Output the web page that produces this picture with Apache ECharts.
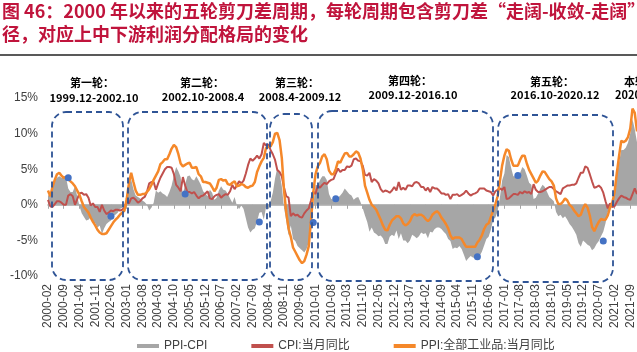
<!DOCTYPE html>
<html><head><meta charset="utf-8">
<script src="https://cdn.jsdelivr.net/npm/echarts@6/dist/echarts.min.js"></script>
<style>html,body{margin:0;padding:0;background:#fff}#c{width:637px;height:352px}</style>
</head><body><div id="c"></div>
<script>
// Monthly categories 2000-02 .. 2021-12
const months = [];
for (let y = 2000; y <= 2021; y++) for (let m = 1; m <= 12; m++) {
  if (y === 2000 && m === 1) continue;
  months.push(y + '-' + String(m).padStart(2, '0'));
}
// CPI: 当月同比 (%)
const cpi = [
  0.7,-0.2,-0.3,0.1,0.5,0.5,0.3,0.0,0.0,1.3,1.5,
  1.2,0.0,0.8,1.6,1.7,1.4,1.5,1.0,-0.1,0.2,-0.3,-0.3,
  -1.0,0.0,-0.8,-1.3,-1.1,-0.8,-0.9,-0.7,-0.7,-0.8,-0.7,-0.4,
  0.4,0.2,0.9,1.0,0.7,0.3,0.5,0.9,1.1,1.8,3.0,3.2,
  3.2,2.1,3.0,3.8,4.4,5.0,5.3,5.3,5.2,4.3,2.8,2.4,
  1.9,3.9,2.7,1.8,1.8,1.6,1.8,1.3,0.9,1.2,1.3,1.6,
  1.9,0.9,0.8,1.2,1.4,1.5,1.0,1.3,1.5,1.4,1.9,2.8,
  2.2,2.7,3.3,3.0,3.4,4.4,5.6,6.5,6.2,6.5,6.9,6.5,
  7.1,8.7,8.3,8.5,7.7,7.1,6.3,4.9,4.6,4.0,2.4,1.2,
  1.0,-1.6,-1.2,-1.5,-1.4,-1.7,-1.8,-1.2,-0.8,-0.5,0.6,1.9,
  1.5,2.7,2.4,2.8,3.1,2.9,3.3,3.5,3.6,4.4,5.1,4.6,
  4.9,4.9,5.4,5.3,5.5,6.4,6.5,6.2,6.1,5.5,4.2,4.1,
  4.5,3.2,3.6,3.4,3.0,2.2,1.8,2.0,1.9,1.7,2.0,2.5,
  2.0,3.2,2.1,2.4,2.1,2.7,2.7,2.6,3.1,3.2,3.0,2.5,
  2.5,2.0,2.4,1.8,2.5,2.3,2.3,2.0,1.6,1.6,1.4,1.5,
  0.8,1.4,1.4,1.5,1.2,1.4,1.6,2.0,1.6,1.3,1.5,1.6,
  1.8,2.3,2.3,2.3,2.0,1.9,1.8,1.3,1.9,2.1,2.3,2.1,
  2.5,0.8,0.9,1.2,1.5,1.5,1.4,1.8,1.6,1.9,1.7,1.8,
  1.5,2.9,2.1,1.8,1.8,1.9,2.1,2.3,2.5,2.5,2.2,1.9,
  1.7,1.5,2.3,2.5,2.7,2.7,2.8,2.8,3.0,3.8,4.5,4.5,
  5.4,5.2,4.3,3.3,2.4,2.5,2.7,2.4,1.7,0.5,-0.5,0.2,
  -0.3,-0.2,0.4,0.9,1.3,1.1,1.0,0.8,0.7,1.5,2.3,1.5
];
// PPI: 全部工业品: 当月同比 (%)
const ppi = [
  2.0,1.2,2.5,3.5,4.3,4.5,4.1,3.8,3.9,3.6,3.3,
  3.0,2.6,2.0,1.4,0.5,-0.3,-0.7,-1.1,-1.8,-2.4,-2.9,-3.5,
  -3.9,-4.1,-4.1,-4.0,-3.5,-3.0,-2.5,-2.1,-1.8,-1.4,-1.1,-0.8,
  0.8,3.0,4.5,3.2,2.0,1.4,1.4,1.5,1.5,1.8,2.2,2.8,
  3.5,4.1,4.7,5.7,6.0,6.4,6.4,7.1,7.9,8.4,8.1,7.1,
  5.8,5.4,5.6,5.8,5.9,5.2,5.2,5.3,4.3,4.0,3.2,3.2,
  3.1,3.0,2.5,1.9,2.4,3.5,3.6,3.4,3.5,2.9,2.8,3.1,
  3.3,2.6,2.7,2.9,2.8,2.5,2.4,2.6,2.7,3.2,4.6,5.4,
  6.1,6.6,8.0,8.1,8.2,8.8,10.0,10.1,9.1,6.6,2.0,-1.1,
  -3.3,-4.5,-6.0,-6.6,-7.2,-7.8,-8.2,-7.9,-7.0,-5.8,-2.1,1.7,
  4.3,5.4,5.9,6.8,7.1,6.4,4.8,4.3,4.3,5.0,6.1,5.9,
  6.6,7.2,7.3,6.8,6.8,7.1,7.5,7.3,6.5,5.0,2.7,1.7,
  0.7,0.0,-0.3,-0.7,-1.4,-2.1,-2.9,-3.5,-3.6,-2.8,-2.2,-1.9,
  -1.6,-1.6,-1.9,-2.6,-2.9,-2.7,-2.3,-1.6,-1.3,-1.5,-1.4,-1.4,
  -1.6,-2.0,-2.3,-2.0,-1.4,-1.1,-0.9,-1.2,-1.8,-2.2,-2.7,-3.3,
  -4.3,-4.8,-4.6,-4.6,-4.6,-4.8,-5.4,-5.9,-5.9,-5.9,-5.9,-5.9,
  -5.3,-4.9,-4.3,-3.4,-2.8,-2.6,-1.7,-0.8,0.1,1.2,3.3,5.5,
  6.9,7.8,7.6,6.4,5.5,5.5,5.5,6.3,6.9,6.9,5.8,4.9,
  4.3,3.7,3.1,3.4,4.1,4.7,4.6,4.1,3.6,3.3,2.7,0.9,
  0.1,0.1,0.4,0.9,0.6,0.0,-0.3,-0.8,-1.2,-1.6,-1.4,-0.5,
  0.1,-0.4,-1.5,-3.1,-3.7,-3.0,-2.4,-2.0,-2.1,-2.1,-1.5,-0.4,
  0.3,1.7,4.4,6.8,9.0,8.8,9.0,9.5,10.7,13.5,12.9,10.3
];
// PPI-CPI (%)
const ppiCpi = [
  1.3,1.4,2.8,3.4,3.8,4.0,3.8,3.8,3.9,2.3,1.8,
  1.8,2.6,1.2,-0.2,-1.2,-1.7,-2.2,-2.1,-1.7,-2.6,-2.6,-3.2,
  -2.9,-4.1,-3.3,-2.7,-2.4,-2.2,-1.6,-1.4,-1.1,-0.6,-0.4,-0.4,
  0.4,2.8,3.6,2.2,1.3,1.1,0.9,0.6,0.4,0.0,-0.8,-0.4,
  0.3,2.0,1.7,1.9,1.6,1.4,1.1,1.8,2.7,4.1,5.3,4.7,
  3.9,1.5,2.9,4.0,4.1,3.6,3.4,4.0,3.4,2.8,1.9,1.6,
  1.2,2.1,1.7,0.7,1.0,2.0,2.6,2.1,2.0,1.5,0.9,0.3,
  1.1,-0.1,-0.6,-0.1,-0.6,-1.9,-3.2,-3.9,-3.5,-3.3,-2.3,-1.1,
  -1.0,-2.1,-0.3,-0.4,0.5,1.7,3.7,5.2,4.5,2.6,-0.4,-2.3,
  -4.3,-2.9,-4.8,-5.1,-5.8,-6.1,-6.4,-6.7,-6.2,-5.3,-2.7,-0.2,
  2.8,2.7,3.5,4.0,4.0,3.5,1.5,0.8,0.7,0.6,1.0,1.3,
  1.7,2.3,1.9,1.5,1.3,0.7,1.0,1.1,0.4,-0.5,-1.5,-2.4,
  -3.8,-3.2,-3.9,-4.1,-4.4,-4.3,-4.7,-5.5,-5.5,-4.5,-4.2,-4.4,
  -3.6,-4.8,-4.0,-5.0,-5.0,-5.4,-5.0,-4.2,-4.4,-4.7,-4.4,-3.9,
  -4.1,-4.0,-4.7,-3.8,-3.9,-3.4,-3.2,-3.2,-3.4,-3.8,-4.1,-4.8,
  -5.1,-6.2,-6.0,-6.1,-5.8,-6.2,-7.0,-7.9,-7.5,-7.2,-7.4,-7.5,
  -7.1,-7.2,-6.6,-5.7,-4.8,-4.5,-3.5,-2.1,-1.8,-0.9,1.0,3.4,
  4.4,7.0,6.7,5.2,4.0,4.0,4.1,4.5,5.3,5.0,4.1,3.1,
  2.8,0.8,1.0,1.6,2.3,2.8,2.5,1.8,1.1,0.8,0.5,-1.0,
  -1.6,-1.4,-1.9,-1.6,-2.1,-2.7,-3.1,-3.6,-4.2,-5.4,-5.9,-5.0,
  -5.3,-5.6,-5.8,-6.4,-6.1,-5.5,-5.1,-4.4,-3.8,-2.6,-1.0,-0.6,
  0.6,1.9,4.0,5.9,7.7,7.7,8.0,8.7,10.0,12.0,10.6,8.8
];
// Blue markers (phase averages)
const dotMonths = ['2000-11','2002-06','2005-03','2007-12','2009-12','2010-10','2016-01','2017-07','2020-09'];
const dotValues = [3.8,-1.6,1.5,-2.4,-2.5,0.85,-7.3,4.1,-5.1];
const yTicks = [-10,-5,0,5,10,15];
const cycleNames = ['第一轮：','第二轮：','第三轮：','第四轮：','第五轮：','本轮：'];
const cycleRanges = ['1999.12-2002.10','2002.10-2008.4','2008.4-2009.12','2009.12-2016.10','2016.10-2020.12','2020.12-至今'];
const legendNames = ['PPI-CPI','CPI:当月同比','PPI:全部工业品:当月同比'];

const FONT = '"Liberation Sans", Arial, "Noto Sans CJK SC", sans-serif';
const chart = echarts.init(document.getElementById('c'), null, {renderer: 'canvas'});
const boxStyle = {fill: 'none', stroke: '#2F5496', lineWidth: 1.8, lineDash: [6, 4]};
const boxes = [
  [52, 112, 71, 168], [128, 112, 139, 168], [270, 114, 42, 166],
  [318, 111, 175, 170], [498, 115, 115, 167]
].map(b => ({type: 'rect', shape: {x: b[0], y: b[1], width: b[2], height: b[3], r: 14}, style: boxStyle, silent: true, z: 10}));
const lblFont = 'bold 11px "Noto Sans CJK SC", sans-serif';
const lblPos = [[92, 83, 94, 98], [202, 83, 203, 97], [297, 83, 300, 97], [410, 81, 413, 95], [552, 82, 555, 95]];
const labels = [];
lblPos.forEach((p, i) => {
  labels.push({type: 'text', x: p[0], y: p[1], style: {text: cycleNames[i], font: lblFont, fill: '#000', textAlign: 'center', textVerticalAlign: 'middle'}, z: 11});
  labels.push({type: 'text', x: p[2], y: p[3], style: {text: cycleRanges[i], font: lblFont, fill: '#000', textAlign: 'center', textVerticalAlign: 'middle'}, z: 11});
});
labels.push({type: 'text', x: 624, y: 82, style: {text: cycleNames[5], font: lblFont, fill: '#000', textAlign: 'left', textVerticalAlign: 'middle'}, z: 11});
labels.push({type: 'text', x: 615, y: 95, style: {text: cycleRanges[5], font: lblFont, fill: '#000', textAlign: 'left', textVerticalAlign: 'middle'}, z: 11});

chart.setOption({
  animation: false,
  backgroundColor: '#fff',
  textStyle: {fontFamily: FONT},
  title: {
    text: '图 46：2000 年以来的五轮剪刀差周期，每轮周期包含剪刀差“走阔-收敛-走阔”路\n径，对应上中下游利润分配格局的变化',
    left: 2, top: 0, padding: 0,
    textStyle: {fontSize: 18, fontWeight: 'bold', color: '#C0143C', lineHeight: 23, fontFamily: '"Noto Sans CJK SC", sans-serif'}
  },
  graphic: [
    {type: 'line', shape: {x1: 0, y1: 55, x2: 637, y2: 55}, style: {stroke: '#595959', lineWidth: 2}, silent: true},
    ...boxes, ...labels
  ],
  grid: {left: 48, right: -2, top: 98, bottom: 76, containLabel: false},
  legend: {
    left: 137, top: 340, padding: 0, itemGap: 44, itemWidth: 22, itemHeight: 4,
    textStyle: {fontSize: 12, color: '#404040', fontFamily: FONT},
    data: [
      {name: legendNames[0], icon: 'rect', itemStyle: {color: '#A6A6A6'}},
      {name: legendNames[1], icon: 'rect', itemStyle: {color: '#C0504D'}},
      {name: legendNames[2], icon: 'rect', itemStyle: {color: '#F5882A'}}
    ]
  },
  xAxis: [
    {
      type: 'category', data: months, boundaryGap: false, position: 'bottom',
      axisLine: {show: false, onZero: false}, axisTick: {show: false},
      axisLabel: {interval: 6, rotate: 90, fontSize: 12, color: '#404040', margin: 8, fontFamily: FONT}
    },
    {
      type: 'category', data: months, boundaryGap: false, position: 'bottom',
      axisLine: {show: true, onZero: true, onZeroAxisIndex: 0, lineStyle: {color: '#A6A6A6', width: 1.5}},
      axisTick: {show: true, interval: 6, length: 4, lineStyle: {color: '#A6A6A6'}},
      axisLabel: {show: false}, splitLine: {show: false}
    }
  ],
  yAxis: {
    type: 'value', min: yTicks[0], max: yTicks[yTicks.length - 1], interval: 5,
    axisLine: {show: false}, axisTick: {show: false}, splitLine: {show: false},
    axisLabel: {formatter: '{value}%', fontSize: 12, color: '#404040', margin: 10, fontFamily: FONT}
  },
  series: [
    {
      name: legendNames[0], type: 'line', data: ppiCpi, symbol: 'none',
      lineStyle: {width: 0}, itemStyle: {color: '#A6A6A6'},
      areaStyle: {color: '#A6A6A6', opacity: 1}, z: 1
    },
    {
      name: legendNames[1], type: 'line', data: cpi, symbol: 'none',
      lineStyle: {width: 2, color: '#C0504D'}, itemStyle: {color: '#C0504D'}, z: 3
    },
    {
      name: legendNames[2], type: 'line', data: ppi, symbol: 'none',
      lineStyle: {width: 2.5, color: '#F5882A'}, itemStyle: {color: '#F5882A'}, z: 4
    },
    {
      name: 'dots', type: 'scatter', data: dotMonths.map((m, i) => [m, dotValues[i]]),
      symbolSize: 7, itemStyle: {color: '#4472C4', opacity: 1}, z: 5
    }
  ]
});
</script></body></html>
